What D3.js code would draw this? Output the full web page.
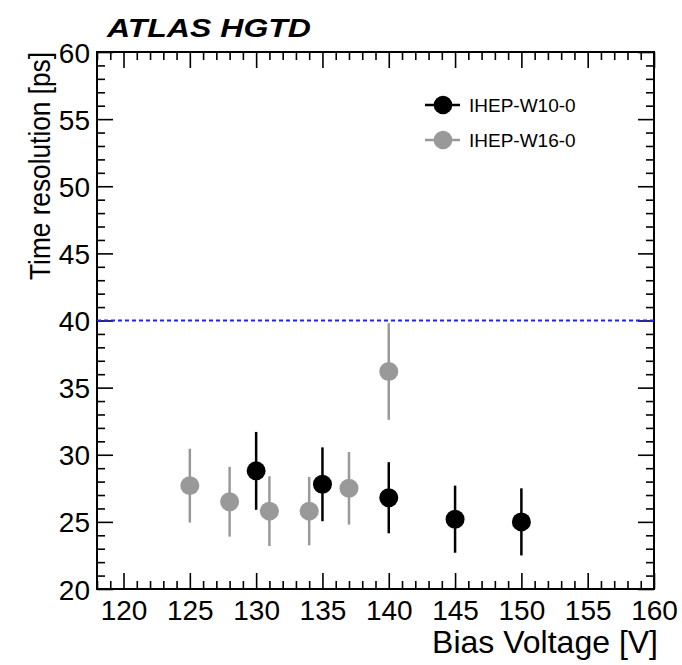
<!DOCTYPE html>
<html>
<head>
<meta charset="utf-8">
<script src="https://cdn.jsdelivr.net/npm/d3@7"></script>
<style>
  body { margin: 0; background: #fff; }
  svg text { font-family: "Liberation Sans", Arial, Helvetica, sans-serif; fill: #000; }
</style>
</head>
<body>
<svg id="chart" width="682" height="665"></svg>
<script>
// values
const seriesNames = ['IHEP-W10-0', 'IHEP-W16-0'];
const seriesColors = ['#000000', '#999999'];

const w10Voltage = [130, 135, 140, 145, 150];
const w10Res = [28.8, 27.8, 26.8, 25.2, 25.0];
const w10Err = [2.9, 2.75, 2.65, 2.5, 2.5];

const w16Voltage = [125, 128, 131, 134, 137, 140];
const w16Res = [27.7, 26.5, 25.8, 25.8, 27.5, 36.2];
const w16Err = [2.75, 2.6, 2.6, 2.55, 2.7, 3.6];

const xTicks = [120, 125, 130, 135, 140, 145, 150, 155, 160];
const yTicks = [20, 25, 30, 35, 40, 45, 50, 55, 60];
const targetRes = 40;

const svg = d3.select('#chart');

var plotLeft = 97,
    plotRight = 654,
    plotTop = 52,
    plotBottom = 589;

var xScale = d3.scaleLinear().domain([118, 160]).range([plotLeft, plotRight]);
var yScale = d3.scaleLinear().domain([20, 60]).range([plotBottom, plotTop]);

var xMinor = d3.range(118, 161, 1).filter(v => v % 5 !== 0);
var yMinor = d3.range(20, 61, 1).filter(v => v % 5 !== 0);

function addAxis(axisFn, scale, ticks, size, labels, transform) {
    var ax = axisFn(scale).tickValues(ticks).tickSizeInner(-size).tickSizeOuter(0);
    if (!labels) ax.tickFormat('');
    var g = svg.append('g').attr('transform', transform).call(ax);
    g.select('.domain').remove();
    g.selectAll('.tick line').attr('stroke', '#000').attr('stroke-width', 1.6);
    return g;
}

// bottom + top
var xb = addAxis(d3.axisBottom, xScale, xTicks, 16, true, `translate(0,${plotBottom})`);
xb.call(a => a.selectAll('.tick text').attr('font-size', 28).attr('y', 11));
addAxis(d3.axisBottom, xScale, xMinor, 8, false, `translate(0,${plotBottom})`);
addAxis(d3.axisTop, xScale, xTicks, 16, false, `translate(0,${plotTop})`);
addAxis(d3.axisTop, xScale, xMinor, 8, false, `translate(0,${plotTop})`);

// left + right
var yl = addAxis(d3.axisLeft, yScale, yTicks, 16, true, `translate(${plotLeft},0)`);
yl.call(a => a.selectAll('.tick text').attr('font-size', 28).attr('x', -7).attr('dy', '0.36em'));
addAxis(d3.axisLeft, yScale, yMinor, 8, false, `translate(${plotLeft},0)`);
addAxis(d3.axisRight, yScale, yTicks, 16, false, `translate(${plotRight},0)`);
addAxis(d3.axisRight, yScale, yMinor, 8, false, `translate(${plotRight},0)`);

svg.selectAll('.tick text').attr('fill', '#000').attr('font-family', '"Liberation Sans", Arial, sans-serif');

// frame
svg.append('rect')
    .attr('x', plotLeft).attr('y', plotTop)
    .attr('width', plotRight - plotLeft).attr('height', plotBottom - plotTop)
    .attr('fill', 'none').attr('stroke', '#000').attr('stroke-width', 2);

// 40 ps requirement line
svg.append('line')
    .attr('x1', plotLeft).attr('x2', plotRight)
    .attr('y1', yScale(targetRes)).attr('y2', yScale(targetRes))
    .attr('stroke', '#1f1fff').attr('stroke-width', 2)
    .attr('stroke-dasharray', '4,3');

function drawSeries(volts, res, err, color) {
    var pts = volts.map((v, i) => ({ v: v, r: res[i], e: err[i] }));
    var g = svg.append('g');
    g.selectAll('line')
        .data(pts)
        .enter()
        .append('line')
        .attr('x1', d => xScale(d.v)).attr('x2', d => xScale(d.v))
        .attr('y1', d => yScale(d.r - d.e)).attr('y2', d => yScale(d.r + d.e))
        .attr('stroke', color).attr('stroke-width', 2.5);
    g.selectAll('circle')
        .data(pts)
        .enter()
        .append('circle')
        .attr('cx', d => xScale(d.v)).attr('cy', d => yScale(d.r))
        .attr('r', 9.5)
        .attr('fill', color);
}

drawSeries(w16Voltage, w16Res, w16Err, seriesColors[1]);
drawSeries(w10Voltage, w10Res, w10Err, seriesColors[0]);

// legend
var legend = svg.append('g').attr('transform', 'translate(443,105)');
seriesNames.forEach((name, i) => {
    var row = legend.append('g').attr('transform', `translate(0,${i * 35})`);
    row.append('line')
        .attr('x1', -18).attr('x2', 17)
        .attr('stroke', seriesColors[i]).attr('stroke-width', 2.5);
    row.append('circle').attr('r', 9.3).attr('fill', seriesColors[i]);
    row.append('text')
        .attr('x', 26).attr('y', 7)
        .attr('font-size', 19)
        .text(name);
});

// titles
svg.append('text')
    .attr('x', 658).attr('y', 653)
    .attr('text-anchor', 'end')
    .attr('font-size', 32)
    .text('Bias Voltage [V]');

svg.append('text')
    .attr('transform', 'translate(50,52) rotate(-90)')
    .attr('text-anchor', 'end')
    .attr('font-size', 30)
    .attr('textLength', 228)
    .attr('lengthAdjust', 'spacingAndGlyphs')
    .text('Time resolution [ps]');

svg.append('text')
    .attr('x', 107).attr('y', 37)
    .attr('font-size', 26)
    .attr('font-weight', 'bold')
    .attr('font-style', 'italic')
    .attr('textLength', 204)
    .attr('lengthAdjust', 'spacingAndGlyphs')
    .text('ATLAS HGTD');
</script>
</body>
</html>
